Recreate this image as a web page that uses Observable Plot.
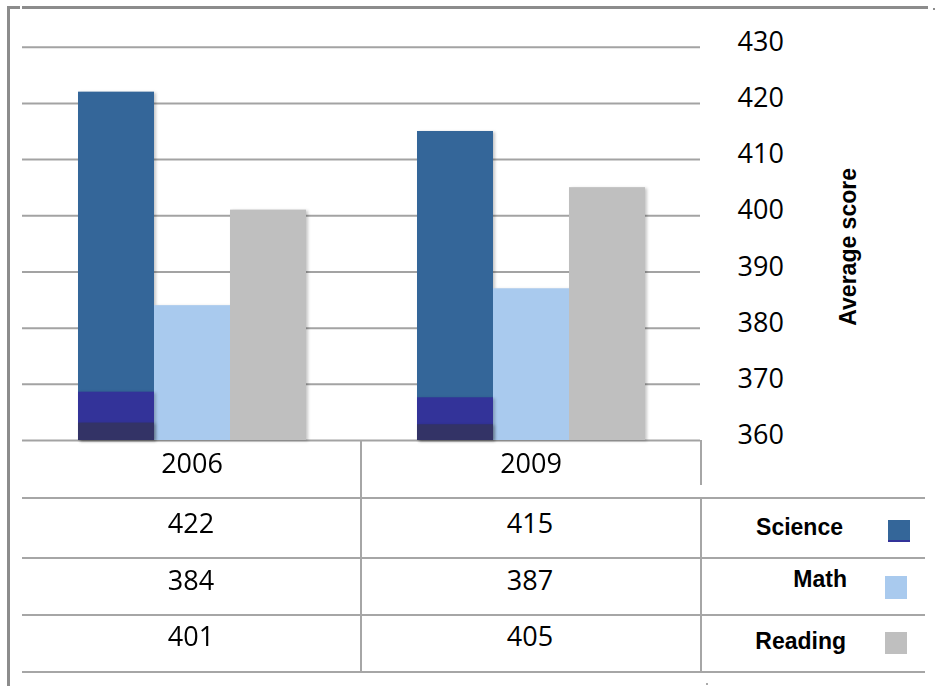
<!DOCTYPE html>
<html>
<head>
<meta charset="utf-8">
<script src="https://cdn.jsdelivr.net/npm/d3@7"></script>
<script src="https://cdn.jsdelivr.net/npm/@observablehq/plot@0.6"></script>
<style>
  html, body { margin: 0; padding: 0; background: #fff; }
  #wrap { position: relative; width: 937px; height: 686px; overflow: hidden; background: #fff; }
  #chart { position: absolute; left: 0; top: 0; }
  .ln { position: absolute; background: #a6a6a6; }
  .frame { position: absolute; background: #8c8c8c; }
  .cell { position: absolute; font-family: "Open Sans", sans-serif; font-size: 27px; color: #000; text-align: center; line-height: 40px; height: 40px; }
  .lg { position: absolute; font-family: "Liberation Sans", Arial, sans-serif; font-weight: bold; font-size: 23px; color: #000; text-align: right; line-height: 30px; height: 30px; }
  .sw { position: absolute; }
  svg g[aria-label="bar"] { filter: drop-shadow(2px 1px 1.5px rgba(0,0,0,0.22)); }
</style>
</head>
<body>
<div id="wrap">
  <div id="chart"></div>
</div>
<script>
const years = ["2006", "2009"];
const subjects = ["Science", "Math", "Reading"];
const science = [422, 415];
const math = [384, 387];
const reading = [401, 405];
// darker bands visible at the foot of the Science bars in the reference
const scienceBandPurple = [368.6, 367.6];
const scienceBandNavy = [363.1, 362.8];
const yTicks = [360, 370, 380, 390, 400, 410, 420, 430];
const colors = ["#346699", "#a9caee", "#bfbfbf"];
const yLabel = "Average score";

const series = [science, math, reading];
const data = years.flatMap((yr, i) => subjects.map((s, j) => ({year: yr, subject: s, score: series[j][i]})));
const bands = years.map((yr, i) => ({year: yr, purple: scienceBandPurple[i], navy: scienceBandNavy[i]}));

const chart = Plot.plot({
  width: 937,
  height: 500,
  marginLeft: 22,
  marginRight: 237,
  marginTop: 46.7,
  marginBottom: 60,
  style: {fontFamily: "Open Sans, sans-serif", fontSize: "27px", color: "#000", background: "transparent", overflow: "visible"},
  fx: {domain: years, padding: 0, label: null},
  x: {domain: subjects, paddingInner: 0, paddingOuter: 0.72, axis: null},
  y: {domain: [360, 430], label: null},
  color: {domain: subjects, range: colors},
  marks: [
    Plot.ruleY(yTicks, {stroke: "#a3a3a3", strokeWidth: 2}),
    Plot.barY(data, {fx: "year", x: "subject", y1: 360, y2: "score", fill: "subject"}),
    Plot.barY(bands, {fx: "year", x: () => "Science", y1: 360, y2: "purple", fill: "#333399"}),
    Plot.barY(bands, {fx: "year", x: () => "Science", y1: 360, y2: "navy", fill: "#333366"}),
    Plot.axisY(yTicks, {anchor: "right", tickSize: 0, tickPadding: 37, dy: -5, label: null, fontSize: 27}),
    Plot.axisFx({anchor: "bottom", tickSize: 0, tickPadding: 13, label: null, fontSize: 27}),
    Plot.text([yLabel], {fx: () => "2009", frameAnchor: "right", textAnchor: "middle", lineAnchor: "middle",
      dx: 148, dy: 3, rotate: -90,
      text: d => d, fontFamily: "Liberation Sans, Arial, sans-serif", fontWeight: "bold", fontSize: 23, fill: "#000"})
  ]
});
document.getElementById("chart").appendChild(chart);

const wrap = document.getElementById("wrap");
function add(cls, style, text) {
  const d = document.createElement("div");
  d.className = cls;
  Object.assign(d.style, style);
  if (text != null) d.textContent = text;
  wrap.appendChild(d);
  return d;
}
// outer frame
add("frame", {left: "7px", top: "6px", width: "3px", height: "680px"});
add("frame", {left: "7px", top: "6px", width: "921px", height: "3px"});
add("", {position: "absolute", left: "20px", top: "5px", width: "2px", height: "5px", background: "#fff"});
add("frame", {left: "933px", top: "8px", width: "2px", height: "2px"});
add("frame", {left: "706px", top: "683px", width: "2px", height: "2px", background: "#aaa"});

// table lines
[498, 558, 615, 672].forEach(y => add("ln", {left: "22px", top: (y - 1) + "px", width: "903px", height: "2px"}));
add("ln", {left: "360px", top: "440px", width: "2px", height: "233px"});
add("ln", {left: "700px", top: "440px", width: "2px", height: "45px"});
add("ln", {left: "700px", top: "498px", width: "2px", height: "175px"});

// table values
const colCenters = [191, 530];
const rowCenters = [523.5, 581, 637];
series.forEach((vals, r) => {
  vals.forEach((v, c) => {
    add("cell", {left: (colCenters[c] - 100) + "px", width: "200px", top: (rowCenters[r] - 21) + "px"}, String(v));
  });
});

// legend
const lgRight = [843, 847, 846];
const lgCenter = [527, 579, 641];
const swBox = [[888, 520, 22, 20], [885, 576, 22, 23], [885, 632, 22, 22]];
subjects.forEach((s, i) => {
  add("lg", {left: (lgRight[i] - 200) + "px", width: "200px", top: (lgCenter[i] - 15) + "px"}, s);
  const b = swBox[i];
  const sw = add("sw", {left: b[0] + "px", top: b[1] + "px", width: b[2] + "px", height: b[3] + "px", background: colors[i]});
  if (i === 0) sw.style.borderBottom = "2px solid #333399";
});
</script>
</body>
</html>
